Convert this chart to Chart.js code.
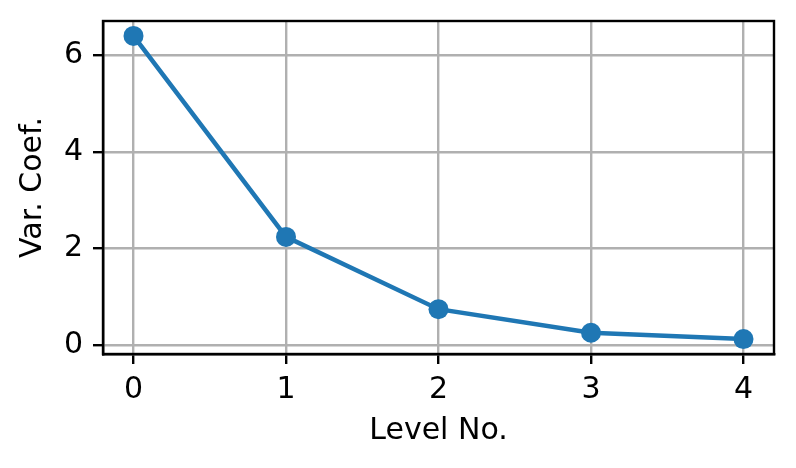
<!DOCTYPE html>
<html>
<head>
<meta charset="utf-8">
<script src="https://cdn.jsdelivr.net/npm/chart.js@4"></script>
<style>
  html, body { margin: 0; padding: 0; background: #fff; }
  canvas { display: block; }
</style>
</head>
<body>
<canvas id="chart" width="796" height="468"></canvas>
<script>
// values
const levels = [0, 1, 2, 3, 4];
const varCoef = [6.41, 2.24, 0.74, 0.25, 0.12];
const xTicks = [0, 1, 2, 3, 4];
const yTicks = [0, 2, 4, 6];

const BLUE = '#1f77b4';
const FONT = { family: 'DejaVu Sans', size: 30 };

// top and right spines
const frame = {
  id: 'frame',
  afterDatasetsDraw(chart) {
    const { ctx, chartArea: a } = chart;
    ctx.save();
    ctx.strokeStyle = '#000';
    ctx.lineWidth = 2.4;
    ctx.strokeRect(a.left, a.top, a.right - a.left, a.bottom - a.top);
    ctx.restore();
  }
};

new Chart(document.getElementById('chart'), {
  type: 'line',
  data: {
    datasets: [{
      data: levels.map((x, i) => ({ x, y: varCoef[i] })),
      borderColor: BLUE,
      backgroundColor: BLUE,
      borderWidth: 4.5,
      pointRadius: 10,
      pointBorderWidth: 0,
      pointHoverRadius: 10,
      tension: 0
    }]
  },
  options: {
    responsive: false,
    animation: false,
    events: [],
    layout: { padding: { top: 21, right: 22, left: 0, bottom: 0 } },
    plugins: { legend: { display: false }, tooltip: { enabled: false } },
    scales: {
      x: {
        type: 'linear',
        min: -0.2,
        max: 4.2,
        afterBuildTicks: s => { s.ticks = xTicks.map(v => ({ value: v })); },
        afterFit: s => { s.height = 114; s.paddingLeft = 0; s.paddingRight = 0; },
        grid: { color: '#b0b0b0', lineWidth: 2.4, tickLength: 10, tickColor: '#000', tickWidth: 2.4 },
        border: { color: '#000', width: 2.4 },
        ticks: { color: '#000', font: FONT, padding: 8, maxRotation: 0, callback: v => String(v) },
        title: { display: true, text: 'Level No.', color: '#000', font: FONT, padding: { top: 0, bottom: 19 } }
      },
      y: {
        type: 'linear',
        min: -0.19,
        max: 6.72,
        afterBuildTicks: s => { s.ticks = yTicks.map(v => ({ value: v })); },
        afterFit: s => { s.width = 103; s.paddingTop = 0; s.paddingBottom = 0; },
        grid: { color: '#b0b0b0', lineWidth: 2.4, tickLength: 10, tickColor: '#000', tickWidth: 2.4 },
        border: { color: '#000', width: 2.4 },
        ticks: { color: '#000', font: FONT, padding: 10, callback: v => String(v) },
        title: { display: true, text: 'Var. Coef.', color: '#000', font: FONT, padding: { top: 15, bottom: 0 } }
      }
    }
  },
  plugins: [frame]
});
</script>
</body>
</html>
